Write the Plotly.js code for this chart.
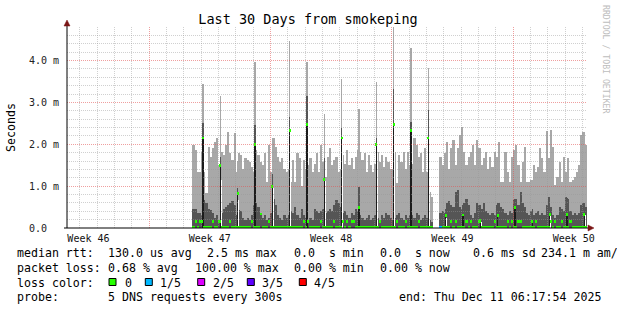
<!DOCTYPE html>
<html><head><meta charset="utf-8">
<script src="https://cdn.plot.ly/plotly-3.0.1.min.js"></script>
<style>html,body{margin:0;padding:0;background:#fff;}#chart{width:617px;height:310px;}</style>
</head><body><div id="chart"></div>
<script>
// ---------------- data (milliseconds) ----------------
const rangeStart = '2025-11-11 06:17:54';
const rangeEnd = '2025-12-11 06:17:54';
const binStart = '2025-11-18 12:00:00';
const binHours = 3;

// top of the light smoke (max ping) per 3-hour bin
const lightTop = [
 1.98,1.86,1.34,1.34,1.82,1.34,0.83,1.94,1.70,1.90,
 2.06,2.14,1.50,1.82,1.74,1.98,2.30,1.78,1.62,2.26,
 1.34,1.78,1.74,1.42,1.66,1.62,1.58,1.46,1.34,1.86,
 1.74,1.58,1.50,1.78,1.11,1.98,1.34,2.14,1.94,1.70,
 1.58,1.66,1.42,1.34,1.42,1.11,1.62,1.11,1.80,1.66,
 1.00,1.62,1.42,1.50,1.66,1.34,1.54,1.78,1.34,1.98,
 1.58,1.22,1.70,1.90,1.50,1.62,1.70,1.34,1.42,1.74,
 1.54,1.86,1.50,1.66,1.42,1.70,1.86,1.82,1.62,1.78,
 1.34,1.74,1.50,1.34,1.54,1.82,1.58,1.74,1.46,1.70,
 1.58,1.42,1.42,1.82,1.07,1.74,1.58,1.82,1.42,1.82,
 1.50,1.54,2.14,1.98,1.70,1.78,1.34,1.90,1.34,0.87,
 0.75,null,null,null,1.70,1.50,1.78,2.06,1.42,1.90,
 2.10,1.50,1.90,2.22,2.42,1.82,1.50,1.70,1.82,1.98,
 1.50,2.10,1.90,1.50,1.66,1.82,1.42,1.70,1.45,1.82,
 1.70,2.06,1.11,1.11,1.82,1.34,1.11,1.70,1.86,1.98,
 1.50,1.11,1.58,1.94,1.11,1.11,1.15,1.50,1.34,1.46,
 1.90,1.66,1.34,2.31,1.66,2.34,1.94,1.03,1.22,1.58,
 1.11,1.70,1.34,1.66,1.11,1.15,1.22,1.34,1.50,2.22,
 2.30,1.98];

// top of the dark smoke per bin
const darkTop = [
 0.45,0.45,0.35,0.35,0.30,0.67,0.60,0.45,0.43,0.35,
 0.25,0.30,0.20,0.35,0.45,0.50,0.55,0.60,0.65,0.55,
 0.30,0.43,0.40,0.25,0.20,0.25,0.20,0.30,0.55,0.60,
 0.50,0.35,0.25,0.30,0.20,0.25,0.35,0.70,0.55,0.30,
 0.25,0.20,0.30,0.25,0.30,0.40,0.35,0.50,0.30,0.25,
 0.45,0.30,0.25,0.20,0.25,0.20,0.45,0.40,0.35,0.40,
 0.45,0.35,0.40,0.45,0.40,0.55,0.67,0.60,0.50,0.35,
 0.40,0.30,0.25,0.35,0.30,0.45,0.40,0.30,0.25,0.20,
 0.25,0.30,0.20,0.25,0.30,0.25,0.20,0.30,0.25,0.35,
 0.30,0.25,0.20,0.25,0.30,0.35,0.25,0.20,0.30,0.25,
 0.30,0.30,0.25,0.35,0.30,0.20,0.25,0.30,0.25,0.20,
 0.15,null,null,null,0.35,0.40,0.35,0.60,0.65,0.55,
 0.50,0.85,0.90,0.50,0.45,0.60,0.70,0.55,0.30,0.25,
 0.35,0.60,0.55,0.45,0.60,0.40,0.35,0.30,0.35,0.30,
 0.55,0.60,0.50,0.45,0.35,0.30,0.40,0.35,0.67,0.70,
 0.55,0.85,0.60,0.50,0.35,0.30,0.40,0.30,0.35,0.40,
 0.30,0.35,0.30,0.55,0.75,0.50,0.30,0.25,0.30,0.50,
 0.45,0.40,0.75,0.70,0.40,0.30,0.35,0.30,0.35,0.55,
 0.60,0.50];

// median rtt per bin
const medianRtt = [
 0.02,0.15,0.02,0.15,0.15,0.02,0.02,0.02,0.02,0.15,
 0.02,0.02,0.15,0.02,0.02,0.02,0.02,0.15,0.02,0.02,
 0.02,0.02,0.02,0.02,0.02,0.02,0.02,0.15,0.02,0.02,
 0.02,0.33,0.02,0.02,0.02,0.15,0.02,0.02,0.02,0.02,
 0.02,0.02,0.02,0.02,0.02,0.02,0.02,0.02,0.02,0.02,
 0.02,0.15,0.02,0.15,0.02,0.02,0.02,0.02,0.02,0.15,
 0.02,0.02,0.02,0.02,0.02,0.15,0.02,0.02,0.02,0.15,
 0.02,0.15,0.02,0.15,0.15,0.02,0.02,0.02,0.02,0.02,
 0.02,0.02,0.02,0.02,0.02,0.02,0.15,0.02,0.02,0.02,
 0.02,0.02,0.02,0.02,0.15,0.02,0.02,0.02,0.15,0.02,
 0.02,0.02,0.02,0.02,0.15,0.02,0.02,0.02,0.02,0.02,
 0.02,null,null,null,0.02,0.02,0.02,0.02,0.02,0.15,
 0.02,0.15,0.02,0.02,0.02,0.02,0.15,0.02,0.15,0.02,
 0.02,0.02,0.15,0.02,0.02,0.02,0.02,0.02,0.02,0.15,
 0.02,0.02,0.02,0.02,0.02,0.15,0.02,0.15,0.02,0.02,
 0.15,0.15,0.02,0.02,0.02,0.02,0.02,0.02,0.15,0.02,
 0.02,0.02,0.02,0.02,0.02,0.15,0.02,0.15,0.02,0.02,
 0.15,0.02,0.02,0.02,0.15,0.02,0.02,0.02,0.02,0.02,
 0.02,0.02];

// bins with packet loss (bin index, lost pings out of 5)
const lossBin = [114];
const lossCount = [1];

// daily latency bursts
const spikeTime = [
 '2025-11-19 02:30','2025-11-20 02:30','2025-11-21 02:30','2025-11-22 02:30',
 '2025-11-23 02:30','2025-11-24 02:30','2025-11-25 02:30','2025-11-26 02:30',
 '2025-11-27 02:30','2025-11-28 02:30','2025-11-29 02:30','2025-11-30 02:30',
 '2025-12-01 02:30','2025-12-02 02:30','2025-12-03 02:30','2025-12-04 02:30',
 '2025-12-05 02:30','2025-12-06 02:30','2025-12-07 02:30','2025-12-08 02:30',
 '2025-12-09 02:30','2025-12-10 02:30','2025-12-11 02:30'];
const spikeMedian = [2.15,1.49,0.82,2.00,1.00,2.32,2.47,1.15,2.15,0.50,2.00,2.47,2.32,2.15,0.29,0.31,0.17,0.30,0.50,0.15,0.33,0.33,0.33];
const spikeDark   = [2.50,1.70,0.95,2.46,1.30,2.66,3.15,1.66,2.38,0.98,2.14,3.33,2.54,2.82,0.45,0.55,0.40,0.60,0.70,0.45,0.75,0.72,0.60];
const spikeMax    = [3.45,3.16,1.60,3.97,2.15,4.47,3.97,2.72,3.55,2.84,3.48,4.80,4.29,3.81,0,0,0,0,0,0,0,0,0];
const spikeGap    = [0,1.15,0.67,0,0.95,2.20,2.40,1.13,2.10,0,1.95,2.40,2.25,2.10,0.25,0,0.15,0,0,0,0.30,0.30,0.30];

const weekTickTimes = ['2025-11-12 12:00','2025-11-19 12:00','2025-11-26 12:00','2025-12-03 12:00','2025-12-10 12:00'];
const weekLabels = ['Week 46','Week 47','Week 48','Week 49','Week 50'];
const majorGridTimes = ['2025-11-16','2025-11-23','2025-11-30','2025-12-07'];
const yTickVals = [0,1,2,3,4];
const yTickText = ['0.0\u00a0\u00a0','1.0 m','2.0 m','3.0 m','4.0 m'];
const lossColors = ['#26ff00','#00b8ff','#dd00ff','#5e00ff','#ff0000'];
const lossLabels = ['0','1/5','2/5','3/5','4/5'];

// ---------------- helpers ----------------
const H = 3600 * 1000;
function parseMs(s){ const p = s.length<=10 ? s+'T00:00:00Z' : s.replace(' ','T')+'Z'; return new Date(p).getTime(); }
function fmt(ms){ return new Date(ms).toISOString().replace('T',' ').slice(0,19); }
const b0 = parseMs(binStart);
const binW = binHours * H;
const binX = lightTop.map((_, i) => fmt(b0 + (i + 0.5) * binW));
const spikeX = spikeTime.map(s => fmt(parseMs(s)));
const gapX = spikeTime.map(s => fmt(parseMs(s) + 1.4 * H));

const medColor = medianRtt.map((_, i) => { const k = lossBin.indexOf(i); return lossColors[k >= 0 ? lossCount[k] : 0]; });
const medBase = medianRtt.map(m => m == null ? null : Math.max(0, m - 0.03));
const medH = medianRtt.map(m => m == null ? null : (m + 0.03) - Math.max(0, m - 0.03));

const LIGHT = '#a8a8a8', DARK = '#555555', BLACK = '#1b1b1b';
function bar(o){ return Object.assign({type:'bar', hoverinfo:'skip'}, o); }
const traces = [
  bar({x: binX, y: lightTop, width: binW, marker:{color: LIGHT, line:{width:0}}}),
  bar({x: spikeX, y: spikeMax, width: 2.0*H, marker:{color: LIGHT, line:{width:0}}}),
  bar({x: binX, y: darkTop, width: binW, marker:{color: DARK, line:{width:0}}}),
  bar({x: spikeX, y: spikeDark.map((d,i)=>d - spikeMedian[i]), base: spikeMedian, width: 2.0*H, marker:{color: DARK, line:{width:0}}}),
  bar({x: spikeX, y: spikeMedian, width: 1.8*H, marker:{color: BLACK, line:{width:0}}}),
  bar({x: gapX, y: spikeGap, width: 1.2*H, marker:{color: '#ffffff', line:{width:0}}}),
  bar({x: binX, y: medH, base: medBase, width: binW, marker:{color: medColor, line:{width:0}}}),
  bar({x: spikeX, y: spikeMedian.map(()=>0.07), base: spikeMedian.map(m=>m-0.035), width: 3.0*H, marker:{color: lossColors[0], line:{width:0}}}),
  {type:'scatter', x:[rangeStart], y:[0], xaxis:'x2', yaxis:'y2', mode:'markers', marker:{opacity:0}, hoverinfo:'skip'}
];

// grid positions
const minorDays = [];
for (let d = parseMs('2025-11-12'); d <= parseMs('2025-12-11'); d += 24*H) {
  const s = fmt(d).slice(0,10);
  if (majorGridTimes.indexOf(s) < 0) minorDays.push(fmt(d));
}
const minorY = [];
for (let v = 1; v <= 24; v++) { if (v % 5) minorY.push(v * 0.2); }

const L = 67, T = 27, PW = 520, PH = 201;
const px = x => (x - L) / PW;
const py = y => (T + PH - y) / PH;
const FONT = 'DejaVu Sans Mono';
const nb = s => s.replace(/ /g, '\u00a0');

const legendRows = [
  [253.3, [['median rtt:',16],['130.0 us avg',107],['2.5 ms max',206],['0.0  s min',293],['0.0  s now',379],['0.6 ms sd',472],['234.1 m am/',540]]],
  [268.3, [['packet loss:',16],['0.68 % avg',107],['100.00 % max',194],['0.00 % min',293],['0.00 % now',379]]],
  [282.7, [['loss color:',16],[lossLabels[0],124],[lossLabels[1],159.3],[lossLabels[2],211.7],[lossLabels[3],261],[lossLabels[4],312.7]]],
  [296.7, [['probe:',16],['5 DNS requests every 300s',107],['end: Thu Dec 11 06:17:54 2025',398]]]
];
const annotations = [];
legendRows.forEach(([y, segs]) => segs.forEach(([t, x]) => annotations.push({
  text: nb(t), xref:'paper', yref:'paper', x: px(x), y: py(y), xanchor:'left', yanchor:'middle',
  showarrow:false, borderpad:0, font:{family: FONT, size: 11.6, color:'#000'}
})));
annotations.push({text:'RRDTOOL / TOBI OETIKER', xref:'paper', yref:'paper', x: px(606), y: py(59),
  xanchor:'center', yanchor:'middle', textangle: 90, showarrow:false, borderpad:0,
  font:{family: FONT, size: 8.2, color:'#bdbdbd'}});

const boxX = [109, 145.3, 197.7, 247.3, 299.3];
const shapes = boxX.map((x, i) => ({type:'rect', xref:'paper', yref:'paper', x0: px(x), x1: px(x+7), y0: py(278.5), y1: py(285.5),
  fillcolor: lossColors[i], line:{color:'#000', width:1}, layer:'above'}));
const ARROW = '#7a1515';
shapes.push({type:'line', xref:'paper', yref:'paper', x0: px(67), x1: px(67), y0: py(228), y1: py(24), line:{color:'#000', width:1}, layer:'above'});
shapes.push({type:'line', xref:'paper', yref:'paper', x0: px(64), x1: px(590), y0: py(228), y1: py(228), line:{color:'#000', width:1}, layer:'above'});
shapes.push({type:'path', xref:'paper', yref:'paper', layer:'above', fillcolor: ARROW, line:{color: ARROW, width:0.5},
  path: `M ${px(67)} ${py(20)} L ${px(64)} ${py(26)} L ${px(70)} ${py(26)} Z`});
shapes.push({type:'path', xref:'paper', yref:'paper', layer:'above', fillcolor: ARROW, line:{color: ARROW, width:0.5},
  path: `M ${px(594)} ${py(228)} L ${px(588)} ${py(225)} L ${px(588)} ${py(231)} Z`});

const layout = {
  width: 617, height: 310,
  margin: {l: L, r: 617 - L - PW, t: T, b: 310 - T - PH, pad: 0},
  paper_bgcolor: '#ffffff', plot_bgcolor: 'rgba(0,0,0,0)',
  showlegend: false, barmode: 'overlay', bargap: 0,
  font: {family: FONT, color: '#000'},
  title: {text: 'Last 30 Days from smokeping', font: {family: FONT, size: 13.5, color: '#000'},
    xref: 'container', yref: 'container', x: 308/617, xanchor: 'center', y: 1 - 19/310, yanchor: 'middle'},
  xaxis: {type: 'date', range: [rangeStart, rangeEnd], domain: [0, 1], tickmode: 'array', tickvals: weekTickTimes, ticktext: weekLabels,
    showgrid: false, zeroline: false, showline: false, ticks: 'outside', ticklen: 1, tickcolor: 'rgba(0,0,0,0)',
    tickfont: {family: FONT, size: 10, color: '#111'}, fixedrange: true},
  yaxis: {range: [0, 4.8], domain: [0, 1], tickmode: 'array', tickvals: yTickVals, ticktext: yTickText,
    showgrid: false, zeroline: false, showline: false, ticks: 'outside', ticklen: 5, tickcolor: 'rgba(0,0,0,0)',
    tickfont: {family: FONT, size: 10, color: '#222'},
    title: {text: 'Seconds', standoff: 10, font: {family: FONT, size: 11.6, color: '#000'}}, fixedrange: true},
  xaxis2: {type: 'date', range: [rangeStart, rangeEnd], domain: [0, 1], anchor: 'y2', tickmode: 'array', tickvals: majorGridTimes,
    showticklabels: false, ticks: '', showgrid: true, gridcolor: 'rgba(225,80,80,0.55)', griddash: '1px,1px', gridwidth: 1,
    minor: {tickmode: 'array', tickvals: minorDays, showgrid: true, gridcolor: 'rgba(150,150,150,0.45)', griddash: '1px,1px', gridwidth: 1, ticks: ''},
    zeroline: false, showline: false, fixedrange: true},
  yaxis2: {range: [0, 4.8], domain: [0, 1], anchor: 'x2', tickmode: 'array', tickvals: [1,2,3,4],
    showticklabels: false, ticks: '', showgrid: true, gridcolor: 'rgba(225,80,80,0.55)', griddash: '1px,1px', gridwidth: 1,
    minor: {tickmode: 'array', tickvals: minorY, showgrid: true, gridcolor: 'rgba(150,150,150,0.45)', griddash: '1px,1px', gridwidth: 1, ticks: ''},
    zeroline: false, showline: false, fixedrange: true},
  annotations: annotations,
  shapes: shapes
};
Plotly.newPlot('chart', traces, layout, {staticPlot: true, displayModeBar: false});
</script></body></html>
